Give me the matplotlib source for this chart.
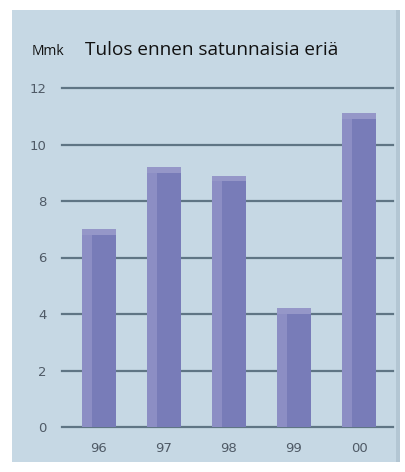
import matplotlib
matplotlib.use("Agg")
import matplotlib.pyplot as plt

# data
years = ['96', '97', '98', '99', '00']
tulos = [7.0, 9.2, 8.9, 4.2, 11.1]
y_ticks = [0, 2, 4, 6, 8, 10, 12]

W, H = 406, 472
fig = plt.figure(figsize=(W / 100, H / 100), dpi=100)
fig.patch.set_facecolor('white')

# light blue panel behind everything
bg = fig.add_axes([12 / W, 1 - 462 / H, 388 / W, 452 / H])
bg.set_facecolor('#c6d8e4')
bg.set_xticks([])
bg.set_yticks([])
for s in bg.spines.values():
    s.set_visible(False)
bg.axvspan(0.99, 1.0, color='#b3c6d3', lw=0)
bg.set_xlim(0, 1)

ax = fig.add_axes([62 / W, 1 - 427 / H, 331 / W, 339 / H])
ax.set_facecolor('none')
ax.set_zorder(2)
for s in ax.spines.values():
    s.set_visible(False)

x = list(range(len(years)))
width = 0.52

for t in y_ticks:
    ax.axhline(t, color='#5f7584', lw=1.6, zorder=1, clip_on=False)

ax.bar(x, tulos, width=width, color='#787cb8', zorder=2)
# lighter left stripe and top cap
ax.bar([i - width * 0.36 for i in x], tulos, width=width * 0.28, color='#8c8ec4', zorder=3)
ax.bar(x, [0.2] * len(x), bottom=[v - 0.2 for v in tulos], width=width,
       color='#9597c8', zorder=4)

ax.set_xlim(-0.569, 4.523)
ax.set_ylim(0, 12)
ax.set_yticks(y_ticks)
ax.set_yticklabels([str(t) for t in y_ticks])
ax.set_xticks(x)
ax.set_xticklabels(years)
ax.tick_params(axis='both', length=0, colors='#4f5a66', labelsize=9.5)
ax.tick_params(axis='y', pad=11)
ax.tick_params(axis='x', pad=11)

fig.text(32 / W, 1 - 55 / H, 'Mmk', fontsize=10, family='Open Sans', color='#111111')
fig.text(85 / W, 1 - 55 / H, 'Tulos ennen satunnaisia eriä', fontsize=13.7,
         family='Open Sans', color='#111111')

fig.savefig('out.png', dpi=100)
